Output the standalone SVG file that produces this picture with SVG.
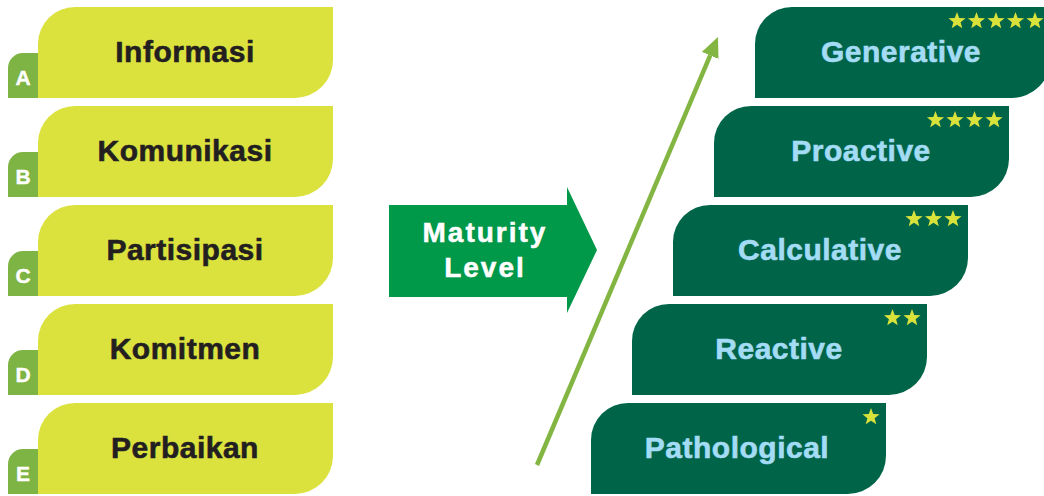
<svg xmlns="http://www.w3.org/2000/svg" width="1044" height="496" viewBox="0 0 1044 496">
  <defs>
    <style>
      .tab { fill: #7db443; }
      .ybox { fill: #dbe23e; }
      .gbox { fill: #006548; }
      .ltxt { font-family: "Liberation Sans", Arial, sans-serif; font-weight: bold; font-size: 30px; letter-spacing: 0.5px; fill: #231f20; stroke: #231f20; stroke-width: 0.6px; text-anchor: middle; }
      .rtxt { font-family: "Liberation Sans", Arial, sans-serif; font-weight: bold; font-size: 30px; letter-spacing: 0.5px; fill: #a3dcf4; stroke: #a3dcf4; stroke-width: 0.6px; text-anchor: middle; }
      .letter { font-family: "Liberation Sans", Arial, sans-serif; font-weight: bold; font-size: 21px; fill: #ffffff; stroke: #ffffff; stroke-width: 0.4px; text-anchor: middle; }
      .mtxt { font-family: "Liberation Sans", Arial, sans-serif; font-weight: bold; font-size: 28px; letter-spacing: 2px; fill: #ffffff; stroke: #ffffff; stroke-width: 0.5px; text-anchor: middle; }
      .star { fill: #d9e23b; }
    </style>
    <path id="ybox" d="M0,91 L0,37 A37,37 0 0 1 37,0 L295,0 L295,53 A38,38 0 0 1 257,91 Z"/>
    <path id="tabshape" d="M8,91 L8,61 A15,15 0 0 1 23,46 L45,46 L45,91 Z"/>
    <polygon id="star" points="0,-9 2.23,-3.07 8.56,-2.78 3.61,1.17 5.29,7.28 0,3.8 -5.29,7.28 -3.61,1.17 -8.56,-2.78 -2.23,-3.07"/>
    <marker id="head" markerUnits="userSpaceOnUse" markerWidth="20" markerHeight="18" refX="0" refY="9" orient="auto">
      <path d="M0,0 L20,9 L0,18 Z" fill="#83b542"/>
    </marker>
  </defs>

  <g id="node-a" transform="translate(0,7)">
    <use href="#tabshape" class="tab"/>
    <use href="#ybox" x="38" class="ybox"/>
    <text x="23" y="78" class="letter">A</text>
    <text x="185" y="55" class="ltxt">Informasi</text>
  </g>
  <g id="node-b" transform="translate(0,106)">
    <use href="#tabshape" class="tab"/>
    <use href="#ybox" x="38" class="ybox"/>
    <text x="23" y="78" class="letter">B</text>
    <text x="185" y="55" class="ltxt">Komunikasi</text>
  </g>
  <g id="node-c" transform="translate(0,205)">
    <use href="#tabshape" class="tab"/>
    <use href="#ybox" x="38" class="ybox"/>
    <text x="23" y="78" class="letter">C</text>
    <text x="185" y="55" class="ltxt">Partisipasi</text>
  </g>
  <g id="node-d" transform="translate(0,304)">
    <use href="#tabshape" class="tab"/>
    <use href="#ybox" x="38" class="ybox"/>
    <text x="23" y="78" class="letter">D</text>
    <text x="185" y="55" class="ltxt">Komitmen</text>
  </g>
  <g id="node-e" transform="translate(0,403)">
    <use href="#tabshape" class="tab"/>
    <use href="#ybox" x="38" class="ybox"/>
    <text x="23" y="78" class="letter">E</text>
    <text x="185" y="55" class="ltxt">Perbaikan</text>
  </g>

  <g id="maturity-level">
    <polygon points="389,205 567,205 567,187 597,250 567,313 567,297 389,297" fill="#009849"/>
    <text x="485" y="242" class="mtxt">Maturity</text>
    <text x="485" y="277" class="mtxt">Level</text>
  </g>

  <g id="connectors">
    <line x1="537" y1="465" x2="710.2" y2="55.4" stroke="#83b542" stroke-width="4.5" marker-end="url(#head)"/>
  </g>

  <g id="node-generative" transform="translate(755,7)">
    <use href="#ybox" class="gbox"/>
    <text x="146" y="55" class="rtxt">Generative</text>
    <use href="#star" x="280" y="14" class="star"/>
    <use href="#star" x="260.5" y="14" class="star"/>
    <use href="#star" x="241" y="14" class="star"/>
    <use href="#star" x="221.5" y="14" class="star"/>
    <use href="#star" x="202" y="14" class="star"/>
  </g>
  <g id="node-proactive" transform="translate(714,106)">
    <use href="#ybox" class="gbox"/>
    <text x="147" y="55" class="rtxt">Proactive</text>
    <use href="#star" x="280" y="14" class="star"/>
    <use href="#star" x="260.5" y="14" class="star"/>
    <use href="#star" x="241" y="14" class="star"/>
    <use href="#star" x="221.5" y="14" class="star"/>
  </g>
  <g id="node-calculative" transform="translate(673,205)">
    <use href="#ybox" class="gbox"/>
    <text x="147" y="55" class="rtxt">Calculative</text>
    <use href="#star" x="280" y="14" class="star"/>
    <use href="#star" x="260.5" y="14" class="star"/>
    <use href="#star" x="241" y="14" class="star"/>
  </g>
  <g id="node-reactive" transform="translate(632,304)">
    <use href="#ybox" class="gbox"/>
    <text x="147" y="55" class="rtxt">Reactive</text>
    <use href="#star" x="280" y="14" class="star"/>
    <use href="#star" x="260.5" y="14" class="star"/>
  </g>
  <g id="node-pathological" transform="translate(591,403)">
    <use href="#ybox" class="gbox"/>
    <text x="146" y="55" class="rtxt">Pathological</text>
    <use href="#star" x="280" y="14" class="star"/>
  </g>
</svg>
